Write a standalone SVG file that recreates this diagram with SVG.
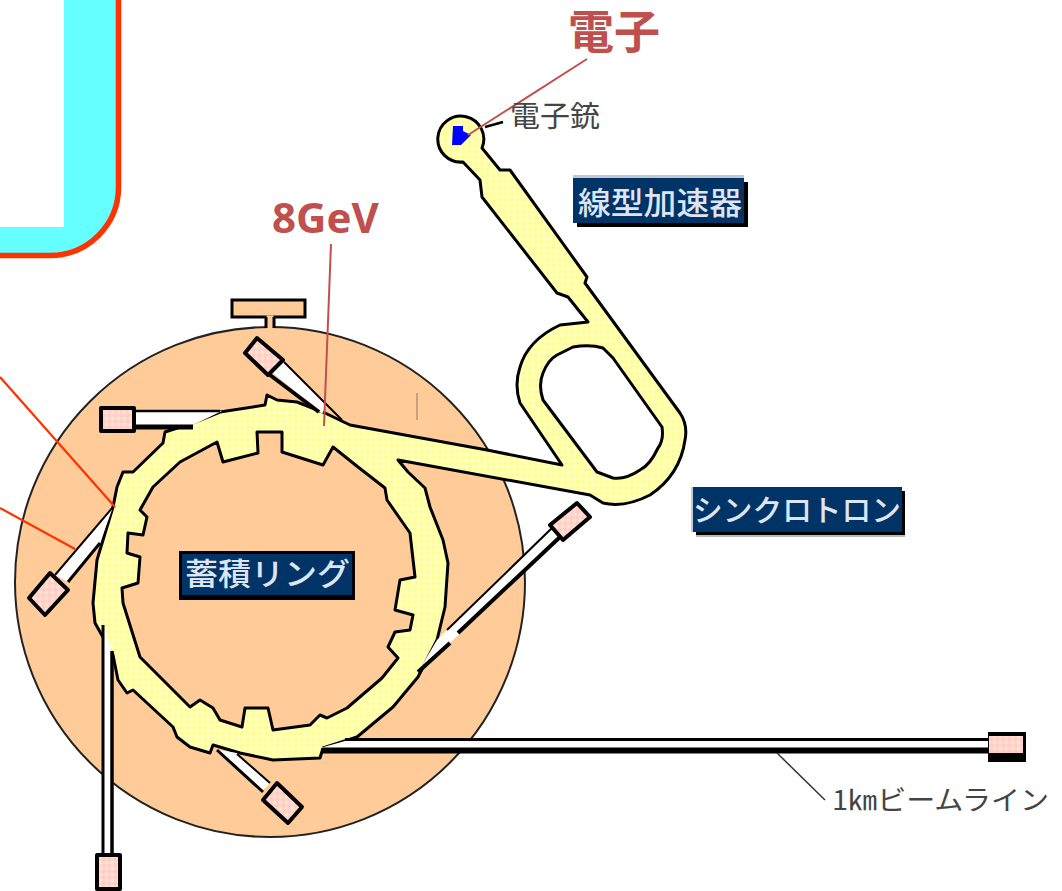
<svg xmlns="http://www.w3.org/2000/svg" width="1062" height="891" viewBox="0 0 1062 891">
<style>
.cjk{font-family:"Noto Sans CJK JP","Noto Sans",sans-serif}
.nav{fill:#003366;stroke:none}
.sh{fill:#000}
.lbl{fill:#dfe4f2;font-size:31px;font-weight:500}
.blk{fill:url(#pk);stroke:#000;stroke-width:4;stroke-linejoin:round}
.bm{fill:#fff;stroke:none}
.edge{stroke:#000;fill:none}
.acc{stroke:#000;stroke-width:3}
.red{stroke:#C0504D;stroke-width:2;fill:none}
.or{stroke:#FF3300;stroke-width:2.2;fill:none}
</style>
<defs>
<pattern id="yl" width="6" height="6" patternUnits="userSpaceOnUse"><rect width="6" height="6" fill="#FFFFB4"/><rect width="3" height="3" fill="#FFFF99"/><rect x="3" y="3" width="3" height="3" fill="#FFFFC8"/></pattern>
<pattern id="pk" width="6" height="6" patternUnits="userSpaceOnUse"><rect width="6" height="6" fill="#FFD5C8"/><rect width="3" height="3" fill="#FFCCCC"/><rect x="3" y="3" width="3" height="3" fill="#FFE8C0"/></pattern>
</defs>
<rect width="1062" height="891" fill="#fff"/>
<g id="frame">
<path d="M64,0H118.5V187A68.500,68.500 0 0 1 50,255.500H0V227H64Z" fill="#66FFFF"/>
<path d="M118.500,0V187A68.500,68.500 0 0 1 50,255.500H0" fill="none" stroke="#FF3300" stroke-width="5.500"/>
</g>
<g id="storage-hall">
<rect x="232" y="300" width="73" height="17" fill="#FFCC99" stroke="#000" stroke-width="3"/>
<circle cx="270" cy="582" r="255" fill="#FFCC99" stroke="#222" stroke-width="2"/>
<rect x="266.500" y="315.500" width="7" height="14" fill="#FFCC99"/>
<path d="M266,317V328M274,317V328" class="edge" stroke-width="3"/>
<path d="M417,393V420" stroke="#8a7a60" stroke-width="1" fill="none"/>
</g>
<g id="accelerator">
<path fill="url(#yl)" fill-rule="evenodd" class="acc" stroke-linejoin="round" d="M463,162A23,23 0 1 1 482,148L500,170L510,170L587,277L585,283L680,413Q688,425 685,440Q680,475 650,495Q625,508 603,503L590,495L398,460L408,472L425,488L430,507L443,540L448,563L445,607L437,640L418,677L393,707L357,737L323,748L320,758L273,760L240,753L213,745L210,753L190,747L177,737L173,727L133,690L127,693L118,680L113,655L95,623L93,603L97,560L113,507L117,487L123,472L133,472L163,443L165,432L193,423L220,412L265,405L267,395L277,400L297,402L325,413L350,425L487,450L562,465L520,403Q514,385 520,367Q528,340 560,325L588,322L568,297L557,293L482,197L480,180Z
M122,588L138,583L140,557L127,553L128,533L143,535L147,517L140,510L153,487L180,462L217,442L223,462L258,453L257,432L282,432L282,452L323,465L333,447L358,467L385,488L387,500L410,533L415,577L400,580L395,610L413,615L410,630L395,632L388,647L398,658L382,678L347,708L327,718L320,715L310,725L273,730L268,708L245,708L242,727L220,720L213,708L200,700L190,707L140,657L123,603Z
M573,347Q590,344 603,348L613,358L662,427Q664,440 658,448Q650,465 640,470Q625,480 613,478L597,472L543,400Q538,385 543,373Q548,360 557,355Z"/>
<path d="M453,126H463V131L471,135L465,141L461,145H452Z" fill="#0000FF"/>
</g>
<g id="connectors">
<polygon class="bm" points="130,411 222,411 193,425 130,425"/>
<path d="M130,411H220" class="edge" stroke-width="2.500"/><path d="M130,427H193" class="edge" stroke-width="5"/>
<polygon class="bm" points="272,372 284,362 327,404 322,414"/>
<path d="M284,362L342,420" class="edge" stroke-width="2"/><path d="M270,375L319,412" class="edge" stroke-width="4"/>
<polygon class="bm" points="55,575 113,507 100,543 68,582"/>
<path d="M55,575L113,507" class="edge" stroke-width="2"/><path d="M68,582L100,543" class="edge" stroke-width="3"/>
<polygon class="bm" points="103,625 112,650 112,856 103,856"/>
<path d="M103,625V856" class="edge" stroke-width="3"/><path d="M112,651V856" class="edge" stroke-width="3.500"/>
<polygon class="bm" points="217,750 237,753 270,783 263,790"/>
<path d="M217,750L263,792" class="edge" stroke-width="3"/><path d="M237,754L270,783" class="edge" stroke-width="2"/>
<polygon class="bm" points="345,741 990,741 990,748 320,748"/>
<path d="M345,739.500H990" class="edge" stroke-width="3"/><path d="M323,750.500H990" class="edge" stroke-width="6"/>
<polygon class="bm" points="437,640 447,630 552,528 560,537 450,643 418,672"/>
<path d="M447,630L552,528" class="edge" stroke-width="2"/><path d="M418,672L450,643M458,633L560,537" class="edge" stroke-width="4"/>
<path d="M485,127L503,122" class="edge" stroke-width="2.500"/>
<path d="M777,753L825,800" stroke="#333" stroke-width="1.500" fill="none"/>
<path d="M587,59L468,135" class="red"/>
<path d="M331,244L324,426" class="red"/>
<path d="M0,377L115,507" class="or"/>
<path d="M0,508L75,549" class="or"/>
</g>
<g id="targets">
<polygon class="blk" points="257,338 283,360 268,375 245,353"/>
<rect x="101" y="408" width="33" height="23" class="blk"/>
<polygon class="blk" points="50,573 68,590 45,615 29,598"/>
<rect x="97" y="855" width="23" height="34" class="blk"/>
<polygon class="blk" points="277,783 302,807 288,823 263,800"/>
<rect x="988" y="732" width="38" height="30" fill="#000"/>
<rect x="989" y="736" width="34" height="17" fill="url(#pk)"/>
<polygon class="blk" points="577,503 590,517 563,540 550,525"/>
</g>
<g id="label-storage-ring">
<rect x="179" y="551" width="176" height="49" fill="#000"/>
<rect x="182" y="554" width="170" height="41" class="nav"/>
<text x="185" y="585" class="cjk lbl" textLength="165" lengthAdjust="spacingAndGlyphs">蓄積リング</text>
</g>
<g id="label-linac">
<rect x="573" y="175" width="171" height="4" fill="#c4c8d4"/>
<rect x="577" y="182" width="171" height="45" class="sh"/>
<rect x="573" y="178" width="171" height="45" class="nav"/>
<text x="578" y="214" class="cjk lbl" textLength="164" lengthAdjust="spacingAndGlyphs">線型加速器</text>
</g>
<g id="label-synchrotron">
<rect x="696" y="491" width="209" height="44" class="sh"/>
<rect x="696" y="535" width="209" height="2" fill="#bbb"/>
<rect x="691" y="487" width="3" height="45" fill="#c4c8d4"/>
<rect x="693" y="487" width="209" height="45" class="nav"/>
<text x="693" y="521" class="cjk lbl" style="font-size:30px" textLength="208" lengthAdjust="spacingAndGlyphs">シンクロトロン</text>
</g>
<text x="510" y="127" class="cjk" font-size="29" fill="#444" textLength="90" lengthAdjust="spacingAndGlyphs">電子銃</text>
<text x="832" y="810" class="cjk" font-size="27" fill="#444" textLength="217" lengthAdjust="spacingAndGlyphs">1㎞ビームライン</text>
<text x="568" y="48" class="cjk" font-size="46" font-weight="700" fill="#C0504D">電子</text>
<text x="272" y="233" font-family="'Noto Sans',sans-serif" font-size="42" font-weight="700" fill="#C0504D">8GeV</text>
</svg>
